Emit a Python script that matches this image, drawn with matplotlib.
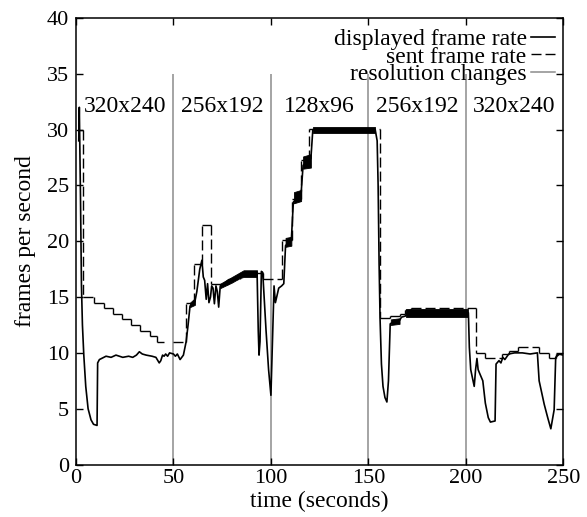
import numpy as np
import matplotlib
matplotlib.use("Agg")
import matplotlib.pyplot as plt
from matplotlib.collections import LineCollection
from matplotlib.lines import Line2D

plt.rcParams["font.family"] = ["Liberation Serif", "DejaVu Serif"]
plt.rcParams["font.size"] = 16

# displayed frame rate (time s, fps)
displayed = [
    (1.4, 29.0), (1.7, 32.0), (2.3, 24.0), (2.8, 16.0), (3.3, 12.5), (4.0, 9.8),
    (5.0, 7.0), (6.2, 5.0), (7.7, 4.0), (9.0, 3.6), (10.8, 3.5), (11.1, 9.1),
    (12.0, 9.4), (15.4, 9.7), (18.0, 9.6), (20.5, 9.8), (24.0, 9.6), (27.0, 9.7),
    (29.1, 9.6), (31.0, 9.8), (32.5, 10.1), (34.0, 9.9), (36.0, 9.8), (39.0, 9.7),
    (41.0, 9.6), (42.7, 9.1), (43.5, 9.3), (44.4, 9.8), (45.2, 9.7), (46.0, 9.9),
    (47.0, 9.7), (48.0, 10.0), (50.0, 9.9), (51.0, 9.7), (52.0, 9.9), (53.4, 9.4),
    (55.1, 9.8), (56.5, 11.0), (57.5, 12.5), (58.5, 14.2), (61.0, 14.6), (62.0, 15.5),
    (63.5, 17.5), (64.6, 18.3), (65.3, 16.8), (66.0, 16.5), (66.8, 14.8), (67.5, 16.2),
    (68.2, 14.5), (69.0, 15.0), (69.6, 16.0), (70.3, 15.8), (71.0, 14.4), (71.8, 16.0),
    (72.5, 15.5), (73.2, 14.1), (74.0, 16.0), (76.0, 16.2), (78.0, 16.5), (80.0, 16.6),
    (82.0, 16.8), (84.3, 17.0), (88.0, 17.1), (92.9, 17.2), (93.5, 12.0), (93.9, 9.8),
    (94.4, 11.0), (95.1, 17.3), (95.8, 17.2), (96.5, 15.0), (97.5, 12.0), (98.8, 8.5),
    (100.0, 6.2), (100.8, 11.0), (101.6, 16.0), (102.3, 14.5), (103.2, 15.2), (104.0, 15.8),
    (105.5, 16.0), (106.6, 16.2), (107.5, 19.6), (110.5, 20.2), (111.5, 23.5), (115.5, 24.3),
    (116.5, 26.8), (120.5, 27.4), (121.5, 30.0), (153.5, 30.0), (154.5, 29.0), (155.0, 25.0),
    (155.5, 18.0), (156.0, 13.0), (156.7, 9.0), (157.5, 7.0), (158.5, 6.0), (159.5, 5.6),
    (160.3, 7.5), (161.2, 12.6), (163.0, 12.8), (166.0, 12.9), (167.0, 13.2), (169.0, 13.3),
    (170.0, 13.6), (201.3, 13.6), (201.8, 10.5), (202.5, 8.5), (203.6, 7.6), (204.3, 7.0),
    (205.0, 8.5), (205.7, 9.5), (206.3, 8.5), (207.0, 8.2), (208.7, 7.5), (210.0, 5.5),
    (211.5, 4.2), (212.6, 3.8), (215.0, 3.9), (215.5, 9.0), (217.0, 9.3), (218.0, 9.1),
    (219.0, 9.6), (220.0, 9.4), (222.0, 9.9), (225.0, 10.0), (229.0, 10.0), (233.0, 9.9),
    (236.7, 10.0), (237.6, 7.5), (240.2, 5.4), (242.0, 4.2), (243.6, 3.2), (245.3, 4.9),
    (246.1, 9.6), (248.0, 9.9), (250.0, 9.8),
]

# jitter envelopes of the displayed rate where the trace is a solid black band
jitter_bands = [
    [(58.5, 14.1, 14.5), (61.0, 14.3, 14.9)],
    [(74.0, 15.8, 16.2), (80.0, 16.3, 16.8), (84.0, 16.7, 17.2), (86.0, 16.8, 17.4), (92.9, 16.8, 17.4)],
    [(107.5, 19.5, 20.3), (110.5, 19.6, 20.4)],
    [(111.8, 23.4, 24.4), (115.5, 23.6, 24.6)],
    [(116.5, 26.5, 27.6), (120.5, 26.6, 27.8)],
    [(121.5, 29.7, 30.2), (153.5, 29.7, 30.2)],
    [(161.5, 12.5, 13.0), (166.0, 12.6, 13.1)],
    [(169.5, 13.2, 13.9), (201.3, 13.2, 13.9)],
]

# sent frame rate, step changes (time s, fps); nan = nothing sent
sent = [
    (1.4, 30.0), (3.8, 15.0), (9.3, 14.5), (14.4, 14.0), (19.0, 13.5), (23.7, 13.0),
    (28.0, 12.5), (33.0, 12.0), (37.8, 11.5), (41.5, 11.0), (45.0, np.nan), (50.0, 11.0),
    (56.2, 14.5), (60.5, 18.0), (64.7, 21.5), (69.5, 16.2), (78.0, 16.6), (84.0, 17.2),
    (95.8, 16.6), (105.7, 20.1), (111.0, 23.8), (115.4, 27.3), (119.6, 30.1), (156.1, 13.1),
    (161.0, 13.3), (166.0, 13.5), (169.0, 13.8), (172.0, 14.0), (205.2, 10.0), (210.0, 9.5),
    (218.4, 9.9), (222.0, 10.2), (226.6, 10.5), (237.5, 10.0), (242.6, 9.5), (246.0, 9.9),
    (250.0, 9.9),
]

res_changes = [50, 100, 150, 200]
res_labels = ["320x240", "256x192", "128x96", "256x192", "320x240"]
res_centers = [25, 75, 125, 175, 225]

fig = plt.figure(figsize=(5.87, 5.17), dpi=100)
ax = fig.add_axes([76 / 587, 52.5 / 517, 487.3 / 587, 446.5 / 517])

gray = "#8c8c8c"
dash = (0, (7.2, 2.9))
ax.vlines(res_changes, 0, 35, color=gray, lw=1.1, zorder=1)

dt, dy = zip(*displayed)
ax.plot(dt, dy, color="black", lw=1.2, zorder=3)
for band in jitter_bands:
    bt, lo, hi = zip(*band)
    ax.fill_between(bt, lo, hi, color="black", lw=0.6, zorder=3)

# gnuplot restarts the dash pattern on every segment, so short steps look solid
segs = []
for (t0, v0), (t1, v1) in zip(sent[:-1], sent[1:]):
    if np.isnan(v0):
        continue
    segs.append([(t0, v0), (t1, v0)])
    if not np.isnan(v1) and v1 != v0:
        segs.append([(t1, v0), (t1, v1)])
ax.add_collection(LineCollection(segs, colors="black", linewidths=1.0,
                                 linestyles=[dash], zorder=2))

for x, lab in zip(res_centers, res_labels):
    ax.text(x, 32.1, lab, ha="center", va="center", fontsize=17)

ax.set_xlim(0, 250)
ax.set_ylim(0, 40)
ax.set_xticks(range(0, 251, 50))
ax.set_yticks(range(0, 41, 5))
ax.tick_params(direction="in", length=5, width=1, top=True, right=True, labelsize=16)
ax.tick_params(axis="x", pad=3)
ax.tick_params(axis="y", pad=5)
for s in ax.spines.values():
    s.set_linewidth(1.1)
ax.set_xlabel("time (seconds)", fontsize=17, labelpad=2)
ax.set_ylabel("frames per second", fontsize=17, labelpad=8)

handles = [
    Line2D([], [], color="black", lw=1.2),
    Line2D([], [], color="black", lw=1.0, linestyle=dash),
    Line2D([], [], color=gray, lw=1.1),
]
labels = ["displayed frame rate", "sent frame rate", "resolution changes"]
ax.legend(handles, labels, loc="upper right", bbox_to_anchor=(0.983, 0.976),
          frameon=False, markerfirst=False, handlelength=1.0, handletextpad=0.2,
          labelspacing=-0.17, borderpad=0, borderaxespad=0, fontsize=17)

fig.savefig("out.png", dpi=100)
